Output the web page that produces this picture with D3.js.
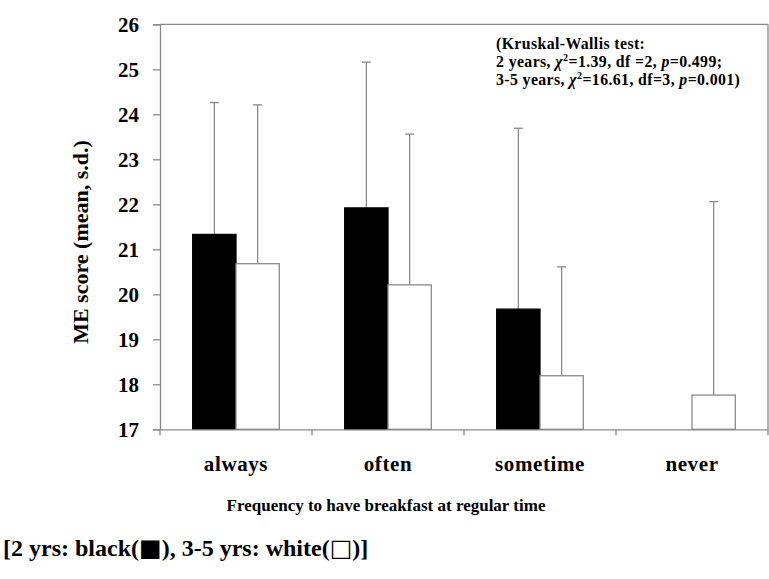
<!DOCTYPE html>
<html>
<head>
<meta charset="utf-8">
<script src="https://cdn.jsdelivr.net/npm/d3@7"></script>
<style>
  html, body { margin: 0; padding: 0; background: #fff; }
  svg { display: block; }
  text { font-family: "Liberation Serif", "Times New Roman", serif; font-weight: bold; fill: #000; }
</style>
</head>
<body>
<svg id="chart" width="769" height="579"></svg>
<script>
const categories = ["always", "often", "sometime", "never"];
const seriesNames = ["2 yrs", "3-5 yrs"];
const meanTwoYrs = [21.33, 21.92, 19.67, null];
const sdTwoYrs = [2.93, 3.24, 4.02, null];
const meanThreeFiveYrs = [20.68, 20.21, 18.19, 17.76];
const sdThreeFiveYrs = [3.53, 3.35, 2.42, 4.30];
const yTicks = [17, 18, 19, 20, 21, 22, 23, 24, 25, 26];
const yTitle = "ME score (mean, s.d.)";
const xTitle = "Frequency to have breakfast at regular time";
const noteLines = ["(Kruskal-Wallis test:", "2 years, χ2=1.39, df =2, p=0.499;", "3-5 years, χ2=16.61, df=3, p=0.001)"];

const svg = d3.select("#chart");
const pLeft = 160, pRight = 768, pTop = 24.3, pBottom = 429.3;
const axisColor = "#8a8a8a";

const x = d3.scaleBand().domain(categories).range([pLeft, pRight]).paddingInner(0).paddingOuter(0);
const x1 = d3.scaleBand().domain(seriesNames).range([0, x.bandwidth()]).paddingInner(0).paddingOuter(0.755);
const y = d3.scaleLinear().domain([17, 26]).range([pBottom, pTop]);

const rows = [];
categories.forEach((c, i) => {
  rows.push({cat: c, s: seriesNames[0], mean: meanTwoYrs[i], sd: sdTwoYrs[i], fill: "#000"});
  rows.push({cat: c, s: seriesNames[1], mean: meanThreeFiveYrs[i], sd: sdThreeFiveYrs[i], fill: "#fff"});
});
const data = rows.filter(d => d.mean != null);

// frame (top and right)
svg.append("line").attr("x1", pLeft).attr("x2", pRight).attr("y1", pTop).attr("y2", pTop)
  .attr("stroke", axisColor).attr("stroke-width", 1.3);
svg.append("line").attr("x1", pRight).attr("x2", pRight).attr("y1", pTop).attr("y2", pBottom)
  .attr("stroke", axisColor).attr("stroke-width", 1.3);

// error bars
const eb = svg.append("g");
data.forEach(d => {
  const cx = x(d.cat) + x1(d.s) + x1.bandwidth() / 2;
  eb.append("line").attr("x1", cx).attr("x2", cx).attr("y1", y(d.mean)).attr("y2", y(d.mean + d.sd))
    .attr("stroke", axisColor).attr("stroke-width", 1.3);
  eb.append("line").attr("x1", cx - 4.5).attr("x2", cx + 4.5).attr("y1", y(d.mean + d.sd)).attr("y2", y(d.mean + d.sd))
    .attr("stroke", axisColor).attr("stroke-width", 1.3);
});

// bars
svg.append("g").selectAll("rect").data(data).join("rect")
  .attr("x", d => x(d.cat) + x1(d.s))
  .attr("width", x1.bandwidth())
  .attr("y", d => y(d.mean))
  .attr("height", d => y(17) - y(d.mean))
  .attr("fill", d => d.fill)
  .attr("stroke", d => d.fill === "#000" ? "#000" : axisColor)
  .attr("stroke-width", 1.3);

// y axis
const yAxis = svg.append("g").attr("transform", `translate(${pLeft},0)`)
  .call(d3.axisLeft(y).tickValues(yTicks).tickFormat(d3.format("d")).tickSize(7).tickPadding(14));
yAxis.select(".domain").attr("stroke", axisColor).attr("stroke-width", 1.3);
yAxis.selectAll(".tick line").attr("stroke", axisColor).attr("stroke-width", 1.3);
yAxis.selectAll(".tick text").attr("font-size", 21).attr("font-family", "Liberation Serif").attr("font-weight", "bold").attr("fill", "#000");

// x axis
const xAxis = svg.append("g").attr("transform", `translate(0,${pBottom})`)
  .call(d3.axisBottom(x).tickSize(0).tickPadding(27));
xAxis.select(".domain").attr("stroke", axisColor).attr("stroke-width", 1.3);
xAxis.selectAll(".tick text").attr("font-size", 21).attr("letter-spacing", 0.6).attr("font-family", "Liberation Serif").attr("font-weight", "bold").attr("fill", "#000");
// boundary ticks between categories
const bounds = categories.map(c => x(c)).concat([pRight]);
svg.append("g").selectAll("line").data(bounds).join("line")
  .attr("x1", d => d).attr("x2", d => d).attr("y1", pBottom).attr("y2", pBottom + 6)
  .attr("stroke", axisColor).attr("stroke-width", 1.3);

// titles
svg.append("text").attr("transform", `translate(88,242) rotate(-90)`)
  .attr("text-anchor", "middle").attr("font-size", 22).text(yTitle);
svg.append("text").attr("x", 386).attr("y", 511).attr("text-anchor", "middle")
  .attr("font-size", 17).text(xTitle);

// annotation
svg.append("text").attr("x", 496).attr("y", 49).attr("font-size", 15.8).attr("letter-spacing", 0.4).text(noteLines[0]);
function statLine(yPos, lead, chi, pval) {
  const t = svg.append("text").attr("x", 496).attr("y", yPos).attr("font-size", 15.8).attr("letter-spacing", 0.4);
  t.append("tspan").text(lead);
  t.append("tspan").attr("font-style", "italic").text("χ");
  t.append("tspan").attr("font-size", 10).attr("dy", -6).text("2");
  t.append("tspan").attr("dy", 6).text(chi);
  t.append("tspan").attr("font-style", "italic").text("p");
  t.append("tspan").text(pval);
}
statLine(67, "2 years, ", "=1.39, df =2, ", "=0.499;");
statLine(85, "3-5 years, ", "=16.61, df=3, ", "=0.001)");

// legend note
const leg = svg.append("text").attr("x", 3).attr("y", 556).attr("font-size", 24);
leg.append("tspan").text("[2 yrs: black(");
leg.append("tspan").attr("font-family", "DejaVu Sans").attr("font-weight", "normal").text("■");
leg.append("tspan").text("), 3-5 yrs: white(");
leg.append("tspan").attr("font-family", "DejaVu Sans").attr("font-weight", "normal").text("□");
leg.append("tspan").text(")]");
</script>
</body>
</html>
